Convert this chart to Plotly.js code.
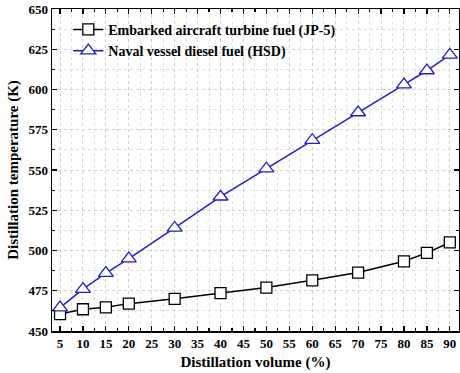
<!DOCTYPE html>
<html><head><meta charset="utf-8">
<script src="https://cdn.plot.ly/plotly-3.0.1.min.js"></script>
<style>body{margin:0;padding:0;background:#fff}#c{width:460px;height:373px}</style>
</head><body><div id="c"></div>
<script>
const volume = [5, 10, 15, 20, 30, 40, 50, 60, 70, 80, 85, 90];
const jp5 = [460.5, 463.5, 464.7, 467, 470, 473.5, 477, 481.5, 486.3, 493.3, 498.5, 505];
const hsd = [464.5, 476, 486, 495, 514, 533.4, 550.8, 568.5, 585.7, 603, 611.8, 621.5];
const seriesNames = ['Embarked aircraft turbine fuel (JP-5)', 'Naval vessel diesel fuel (HSD)'];
const xTicks = [5,10,15,20,25,30,35,40,45,50,55,60,65,70,75,80,85,90];
const yTicks = [450,475,500,525,550,575,600,625,650];

const font = {family: '"Liberation Serif", "Times New Roman", serif', size: 13, color: '#000'};
const traces = [
  {x: volume, y: jp5, name: seriesNames[0], type: 'scatter', mode: 'lines+markers',
   line: {color: '#000', width: 1.5},
   marker: {symbol: 'square', size: 11, color: '#fff', line: {color: '#000', width: 1.3}}},
  {x: volume, y: hsd, name: seriesNames[1], type: 'scatter', mode: 'lines+markers',
   line: {color: '#2020c8', width: 1.5},
   marker: {symbol: 'triangle-up', size: 13, color: '#fff', line: {color: '#2020c8', width: 1.3}}}
];
const axisCommon = {
  showline: true, linecolor: '#000', linewidth: 1.5, mirror: 'ticks',
  ticks: 'inside', ticklen: 5, tickwidth: 1.2, tickcolor: '#000',
  showgrid: true, gridcolor: '#cfcfcf', griddash: 'dot', gridwidth: 1,
  zeroline: false
};
const layout = {
  width: 460, height: 373,
  margin: {l: 52, r: 1, t: 9, b: 42},
  paper_bgcolor: '#fff', plot_bgcolor: '#fff',
  font: font,
  showlegend: true,
  legend: {x: 0.04, y: 0.985, xanchor: 'left', yanchor: 'top', bgcolor: 'rgba(0,0,0,0)',
           font: {family: font.family, size: 14, color: '#000', weight: 'bold'}, tracegroupgap: 0},
  xaxis: Object.assign({}, axisCommon, {
    range: [3.25, 92], tickvals: xTicks, ticktext: xTicks.map(String),
    tickfont: {family: font.family, size: 13, color: '#000', weight: 'bold'},
    minor: {dtick: 2.5, tick0: 0, ticks: 'inside', ticklen: 3, tickcolor: '#000', showgrid: true, gridcolor: '#dedede', griddash: 'dot'},
    title: {text: 'Distillation volume (%)', font: {family: font.family, size: 15, color: '#000', weight: 'bold'}, standoff: 6}
  }),
  yaxis: Object.assign({}, axisCommon, {
    range: [450, 650], tickvals: yTicks, ticktext: yTicks.map(String),
    tickfont: {family: font.family, size: 13, color: '#000', weight: 'bold'},
    minor: {dtick: 12.5, tick0: 450, ticks: 'inside', ticklen: 3, tickcolor: '#000', showgrid: true, gridcolor: '#dedede', griddash: 'dot'},
    title: {text: 'Distillation temperature (K)', font: {family: font.family, size: 15, color: '#000', weight: 'bold'}, standoff: 6}
  })
};
Plotly.newPlot('c', traces, layout, {displayModeBar: false, staticPlot: true});
</script></body></html>
